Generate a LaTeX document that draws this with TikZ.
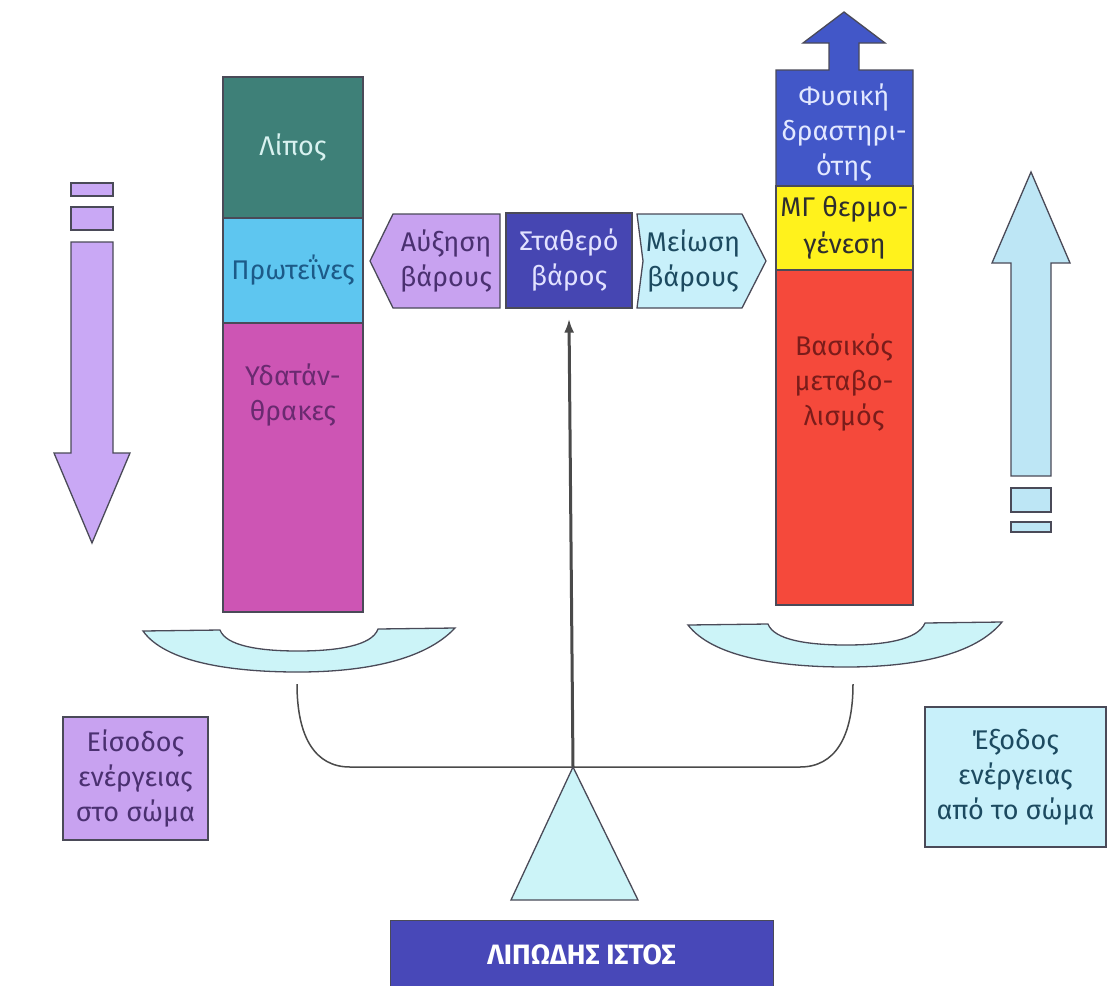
\documentclass[tikz,border=0pt]{standalone}
\usepackage{fontspec}
\setmainfont{Fira Sans}
\usetikzlibrary{arrows.meta}
\definecolor{edgec}{HTML}{4A4A58}
\definecolor{fatc}{HTML}{3E8078}
\definecolor{fatt}{HTML}{D8F2F0}
\definecolor{protc}{HTML}{5EC6F0}
\definecolor{prott}{HTML}{1C5A88}
\definecolor{carbc}{HTML}{CD55B4}
\definecolor{carbt}{HTML}{6A2A70}
\definecolor{physc}{HTML}{4257C8}
\definecolor{physt}{HTML}{E2E8FF}
\definecolor{yelc}{HTML}{FFF21C}
\definecolor{yelt}{HTML}{2E2E2E}
\definecolor{redc}{HTML}{F5493B}
\definecolor{redt}{HTML}{7A1C1A}
\definecolor{lavc}{HTML}{C8A2F0}
\definecolor{lavt}{HTML}{4A3070}
\definecolor{stabc}{HTML}{4646B2}
\definecolor{stabt}{HTML}{E2E2FF}
\definecolor{cyanc}{HTML}{C8F0FA}
\definecolor{cyant}{HTML}{1C4A60}
\definecolor{panc}{HTML}{CCF4F8}
\definecolor{arrl}{HTML}{C9A8F5}
\definecolor{arrr}{HTML}{BDE6F5}
\definecolor{labc}{HTML}{4848B8}
\definecolor{beamc}{HTML}{4A4A4A}
\newcommand\bigtxt{\fontsize{27}{35}\selectfont}
\begin{document}
\begin{tikzpicture}[x=1pt,y=-1pt,
  seg/.style={draw=edgec, line width=1.3pt, minimum width=140pt, inner sep=0pt, font=\bigtxt},
  lbl/.style={align=center, font=\bigtxt, inner sep=0pt},
  shapeline/.style={draw=edgec, line width=1.3pt, line join=miter},
  beam/.style={draw=beamc, line width=1.5pt},
  txtbox/.style={draw=edgec, line width=1.3pt, align=center, font=\bigtxt, inner sep=0pt}]
\useasboundingbox[fill=white] (0,0) rectangle (1110,985);

% left column
\node[seg, fill=fatc, text=fatt, minimum height=141pt] (fat) at (293,147.5) {Λίπος};
\node[seg, fill=protc, text=prott, minimum height=105pt] (prot) at (293,270.5) {Πρωτεΐνες};
\node[seg, fill=carbc, minimum height=289pt] (carb) at (293,467.5) {};
\node[lbl, text=carbt] (carbtxt) at (293,395) {Υδατάν-\\θρακες};

% right column
\path[shapeline, fill=physc] (776,186) -- (776,70) -- (829,70) -- (829,43) -- (803,43) -- (844,12)
  -- (885,43) -- (859,43) -- (859,70) -- (913,70) -- (913,186) -- cycle;
\node[lbl, text=physt] (phys) at (844,133) {Φυσική\\δραστηρι-\\ότης};
\node[seg, fill=yelc, text=yelt, minimum width=137pt, minimum height=84pt, align=center,
  font=\fontsize{27}{37}\selectfont] (thermo) at (844.5,228) {ΜΓ θερμο-\\γένεση};
\node[seg, fill=redc, minimum width=137pt, minimum height=335pt] (bmr) at (844.5,437.5) {};
\node[lbl, text=redt] (bmrtxt) at (844,383) {Βασικός\\μεταβο-\\λισμός};

% centre labels
\path[shapeline, fill=lavc] (370,261) -- (393,214) -- (500,214) -- (500,308) -- (393,308) -- cycle;
\node[lbl, text=lavt] (aux) at (446,261) {Αύξηση\\βάρους};
\node[seg, fill=stabc, text=stabt, minimum width=126pt, minimum height=95pt, align=center] (stab) at (569,260.5) {Σταθερό\\βάρος};
\path[shapeline, fill=cyanc] (637,214) -- (742,214) -- (766,261) -- (742,308) -- (637,308) -- (643,261) -- cycle;
\node[lbl, text=cyant] (mei) at (693,261) {Μείωση\\βάρους};

% big side arrows
\path[shapeline, fill=arrl] (71,183) rectangle (113,196);
\path[shapeline, fill=arrl] (71,207) rectangle (113,230);
\path[shapeline, fill=arrl] (71,242) -- (113,242) -- (113,453) -- (130,453) -- (92,543) -- (54,453) -- (71,453) -- cycle;

\path[shapeline, fill=arrr] (1011,476) -- (1011,263) -- (992,263) -- (1031,172) -- (1070,263) -- (1051,263) -- (1051,476) -- cycle;
\path[shapeline, fill=arrr] (1011,488) rectangle (1051,512);
\path[shapeline, fill=arrr] (1011,522) rectangle (1051,532);

% pans
\path[shapeline, fill=panc] (143,631) -- (220,630) .. controls (226,646) and (260,651) .. (298,651)
  .. controls (336,651) and (372,646) .. (378,629) -- (455,628)
  .. controls (425,660) and (365,672) .. (298,672) .. controls (230,672) and (165,662) .. (143,631) -- cycle;
\path[shapeline, fill=panc] (688,625) -- (768,624) .. controls (774,640) and (808,645) .. (846,645)
  .. controls (884,645) and (918,640) .. (925,623) -- (1002,622)
  .. controls (975,655) and (915,667) .. (846,667) .. controls (775,667) and (712,656) .. (688,625) -- cycle;

% beam, stand and pointer
\coordinate (lhang) at (297,684);
\coordinate (rhang) at (853,684);
\coordinate (apex) at (573,767);
\draw[beam] (lhang) .. controls (297,737) and (315,767) .. (350,767) -- (800,767)
  .. controls (835,767) and (853,737) .. (rhang);
\path[shapeline, fill=panc] (apex) -- (638,900) -- (511,900) -- cycle;
\draw[draw=beamc, line width=3pt, -{Latex[length=14pt,width=10pt]}] (apex) -- ([yshift=-10pt]stab.south);

% text boxes
\node[txtbox, fill=lavc, text=lavt, minimum width=145pt, minimum height=123pt] (ein) at (135.5,778.5) {Είσοδος\\ενέργειας\\στο σώμα};
\node[txtbox, fill=cyanc, text=cyant, minimum width=181pt, minimum height=140pt] (eout) at (1015.5,777) {Έξοδος\\ενέργειας\\από το σώμα};

% bottom label
\node[draw=edgec, line width=1pt, fill=labc, text=white, minimum width=383pt, minimum height=70pt,
  font=\fontsize{28}{32}\selectfont\bfseries, inner sep=0pt] (adip) at (581.5,955) {ΛΙΠΩΔΗΣ ΙΣΤΟΣ};
\end{tikzpicture}
\end{document}
